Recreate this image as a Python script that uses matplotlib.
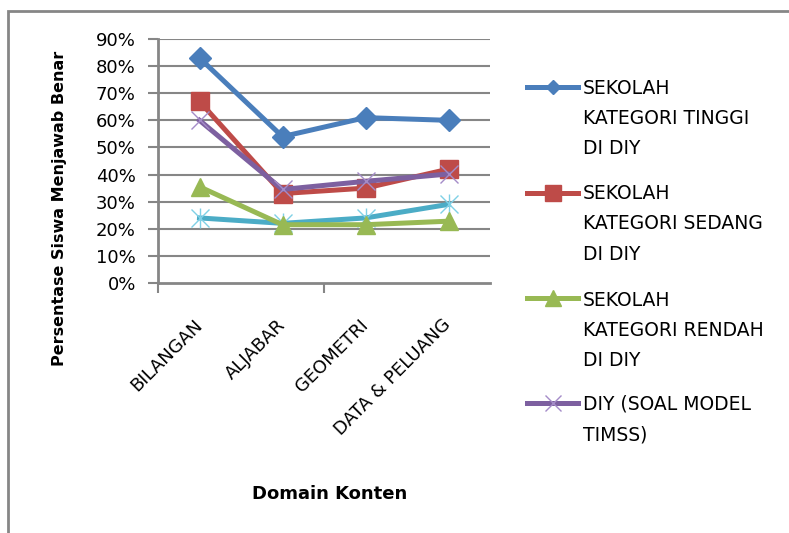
import matplotlib
matplotlib.use("Agg")
import matplotlib.pyplot as plt
from matplotlib.lines import Line2D
from matplotlib.patches import Rectangle
from matplotlib.ticker import FixedLocator, PercentFormatter

# ---- data -------------------------------------------------------------
categories = ["BILANGAN", "ALJABAR", "GEOMETRI", "DATA & PELUANG"]

tinggi = [0.83, 0.54, 0.61, 0.60]
sedang = [0.67, 0.33, 0.35, 0.42]
rendah = [0.355, 0.215, 0.215, 0.228]
diy_model = [0.60, 0.345, 0.375, 0.402]
internasional = [0.24, 0.22, 0.24, 0.29]

legend_labels = [
    "SEKOLAH\nKATEGORI TINGGI\nDI DIY",
    "SEKOLAH\nKATEGORI SEDANG\nDI DIY",
    "SEKOLAH\nKATEGORI RENDAH\nDI DIY",
    "DIY (SOAL MODEL\nTIMSS)",
]
y_ticks = [0.0, 0.1, 0.2, 0.3, 0.4, 0.5, 0.6, 0.7, 0.8, 0.9]

# ---- styling ------------------------------------------------------------
plt.rcParams["font.family"] = ["DejaVu Sans"]
W, H = 789, 533
fig = plt.figure(figsize=(W / 100, H / 100), dpi=100)
fig.patch.set_facecolor("white")

# plot area in pixel coordinates
left, right, top, bottom = 158, 490, 39, 283
ax = fig.add_axes([left / W, 1 - bottom / H, (right - left) / W, (bottom - top) / H])

grey = "#868686"
blue, red, green, purple, cyan = "#4A7EBB", "#BE4B48", "#98B954", "#7D60A0", "#4BACC6"
lw = 3.6
x = list(range(len(categories)))

ax.plot(x, internasional, color=cyan, lw=lw, marker="x", ms=13, mew=1.0,
        mec="#7FD0E6", zorder=3)
ax.plot(x, internasional, ls="none", marker="|", ms=15, mew=1.0,
        mec="#7FD0E6", zorder=3)
ax.plot(x, rendah, color=green, lw=lw, marker="^", ms=13, mfc=green, mec=green, zorder=4)
ax.plot(x, sedang, color=red, lw=lw, marker="s", ms=13, mfc=red, mec=red, zorder=5)
ax.plot(x, diy_model, color=purple, lw=lw, marker="x", ms=13, mew=1.0,
        mec="#A58CC8", zorder=6)
ax.plot(x, tinggi, color=blue, lw=lw, marker="D", ms=11, mfc=blue, mec=blue, zorder=7)

ax.set_xlim(-0.5, len(categories) - 0.5)
ax.set_ylim(0, 0.9)

# gridlines
for yv in y_ticks[1:]:
    ax.axhline(yv, color=grey, lw=1.5, zorder=1)

ax.yaxis.set_major_locator(FixedLocator(y_ticks))
ax.yaxis.set_major_formatter(PercentFormatter(1.0, decimals=0))
ax.tick_params(axis="y", length=7, width=1.5, color=grey, pad=9,
               labelsize=13, labelcolor="black")

# category boundaries every second category, labels at centres
ax.set_xticks([-0.5, 1.5])
ax.set_xticklabels([])
ax.set_xticks(x, minor=True)
ax.set_xticklabels(categories, minor=True)
ax.tick_params(axis="x", which="major", length=7, width=1.5, color=grey)
ax.tick_params(axis="x", which="minor", length=0, pad=28, labelsize=13)
for lab in ax.get_xticklabels(minor=True):
    lab.set_rotation(45)
    lab.set_ha("right")
    lab.set_va("center")
    lab.set_rotation_mode("anchor")

for s in ("top", "right"):
    ax.spines[s].set_visible(False)
for s in ("left", "bottom"):
    ax.spines[s].set_color(grey)
    ax.spines[s].set_linewidth(2)
ax.set_facecolor("white")

# axis titles
fig.text(60 / W, 1 - 208 / H, "Persentase Siswa Menjawab Benar", rotation=90,
         ha="center", va="center", fontsize=11.5, fontweight="bold")
fig.text(330 / W, 1 - 494 / H, "Domain Konten", ha="center", va="center",
         fontsize=13, fontweight="bold")

# legend, handle aligned with the first text line of every entry
legend_lines = [
    dict(color=blue, marker="D", ms=7, mfc=blue, mec=blue),
    dict(color=red, marker="s", ms=11, mfc=red, mec=red),
    dict(color=green, marker="^", ms=11, mfc=green, mec=green),
    dict(color=purple, marker="x", ms=11, mew=1.0, mec="#A58CC8"),
]
handle_y = [87, 193, 298, 403]
text_top = [79, 184, 291, 395]
for label, style, yc, yt in zip(legend_labels, legend_lines, handle_y, text_top):
    yf = 1 - yc / H
    fig.add_artist(Line2D([527 / W, 578 / W], [yf, yf], lw=lw,
                          transform=fig.transFigure, markevery=[], **style))
    fig.add_artist(Line2D([552.5 / W], [yf], transform=fig.transFigure, ls="none",
                          **{k: v for k, v in style.items() if k != "color"}))
    fig.text(583 / W, 1 - yt / H, label, ha="left", va="top",
             fontsize=13.5, linespacing=1.75)

# chart frame
fig.add_artist(Rectangle((8 / W, -0.1), 1.2, 1.1 - 11 / H, transform=fig.transFigure,
                         fill=False, edgecolor=grey, lw=2))

fig.savefig("out.png", dpi=100)
